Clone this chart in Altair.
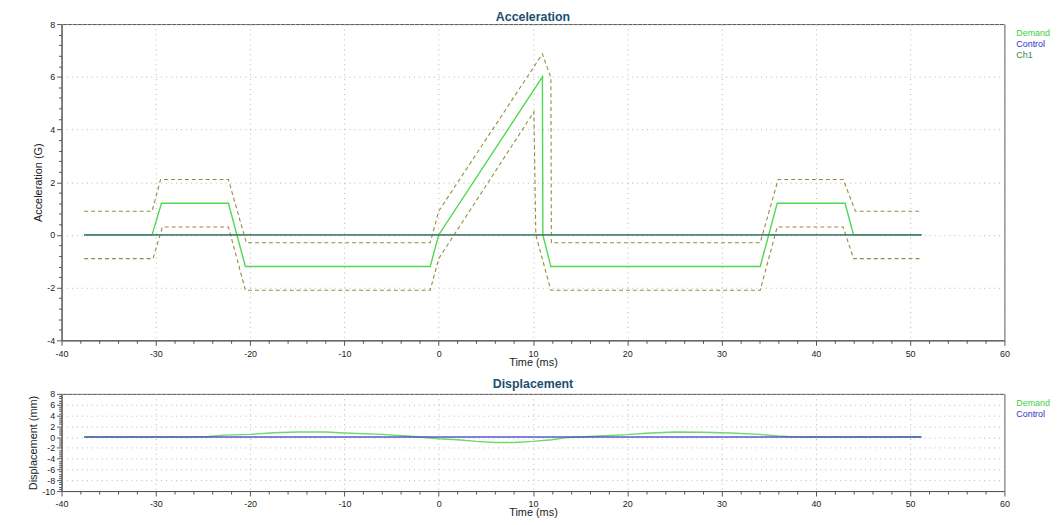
import altair as alt
import pandas as pd

# ---------------- Acceleration (G) ----------------
acc_demand_t = [-37.6, -30.4, -29.4, -22.3, -20.5, -0.9, 0.0, 11.0, 11.05, 11.9, 34.1, 35.9, 43.1, 44.0, 51.2]
acc_demand_v = [0.0, 0.0, 1.2, 1.2, -1.2, -1.2, 0.0, 6.0, 0.0, -1.2, -1.2, 1.2, 1.2, 0.0, 0.0]

acc_upper_t = [-37.6, -30.4, -29.5, -22.3, -20.4, -0.9, 0.0, 11.0, 11.9, 11.95, 34.1, 36.0, 42.9, 44.2, 51.2]
acc_upper_v = [0.9, 0.9, 2.1, 2.1, -0.3, -0.3, 0.9, 6.87, 5.97, -0.3, -0.3, 2.1, 2.1, 0.9, 0.9]

acc_lower_t = [-37.6, -30.3, -29.3, -22.3, -20.5, -0.9, 0.0, 10.1, 10.3, 11.9, 34.1, 35.9, 42.9, 44.0, 51.2]
acc_lower_v = [-0.9, -0.9, 0.3, 0.3, -2.1, -2.1, -0.9, 4.67, 0.0, -2.1, -2.1, 0.3, 0.3, -0.9, -0.9]

acc_control_t = [-37.6, 51.2]
acc_control_v = [0.0, 0.0]
acc_ch1_t = [-37.6, 51.2]
acc_ch1_v = [0.0, 0.0]

# ---------------- Displacement (mm) ----------------
disp_demand_t = [-37.6, -26.7, -24.4, -22.8, -20.0, -17.5, -15.0, -12.0, -10.0, -6.0, -3.0, -2.0,
                 0.0, 2.0, 4.0, 6.0, 8.0, 10.0, 12.0, 13.6, 15.0, 17.0, 20.0, 22.0, 25.0, 28.0,
                 31.0, 34.0, 36.0, 38.3, 51.2]
disp_demand_v = [0.0, 0.0, 0.1, 0.35, 0.5, 0.8, 0.95, 0.95, 0.75, 0.5, 0.15, 0.0,
                 -0.3, -0.5, -0.8, -1.0, -1.0, -0.8, -0.5, -0.1, 0.0, 0.2, 0.45, 0.7, 0.95, 0.9,
                 0.75, 0.5, 0.2, 0.0, 0.0]
disp_control_t = [-37.6, 51.2]
disp_control_v = [0.0, 0.0]

# ---------------- Axis tick values ----------------
x_ticks = list(range(-40, 61, 2))
acc_y_ticks = [round(-4 + 0.4 * k, 1) for k in range(31)]
disp_y_ticks = [round(-10 + 0.4 * k, 1) for k in range(46)]

series_names_acc = ["Demand", "Control", "Ch1"]
series_colors_acc = ["#50d850", "#3c3cc8", "#4a964e"]
series_names_disp = ["Demand", "Control"]
series_colors_disp = ["#5ad65a", "#4646c8"]


def long_frame(pairs):
    rows = []
    for name, ts, vs in pairs:
        for i, (t, v) in enumerate(zip(ts, vs)):
            rows.append({"t": t, "v": v, "series": name, "i": i})
    return pd.DataFrame(rows)


acc_df = long_frame([("Demand", acc_demand_t, acc_demand_v),
                     ("Control", acc_control_t, acc_control_v),
                     ("Ch1", acc_ch1_t, acc_ch1_v)])
env_df = long_frame([("upper", acc_upper_t, acc_upper_v),
                     ("lower", acc_lower_t, acc_lower_v)])
disp_df = long_frame([("Demand", disp_demand_t, disp_demand_v),
                      ("Control", disp_control_t, disp_control_v)])

FONT = "Liberation Sans"
x_major = "abs(datum.value / 10 - round(datum.value / 10)) < 0.001"
y_major = "abs(datum.value / 2 - round(datum.value / 2)) < 0.001"


def x_axis():
    return alt.Axis(
        values=x_ticks,
        labelExpr=f"{x_major} ? '' + datum.value : ''",
        tickSize={"condition": {"test": x_major, "value": 5}, "value": 3},
        gridOpacity={"condition": {"test": x_major, "value": 1}, "value": 0},
        title="Time (ms)",
        titlePadding=-2,
        labelPadding=4,
        labelFlush=False,
        labelOverlap=False,
    )


def y_axis(title, values):
    return alt.Axis(
        values=values,
        labelExpr=f"{y_major} ? '' + round(datum.value) : ''",
        tickSize={"condition": {"test": y_major, "value": 5}, "value": 3},
        gridOpacity={"condition": {"test": y_major, "value": 1}, "value": 0},
        title=title,
        titlePadding=3,
        labelPadding=2,
        labelFlush=False,
        labelOverlap=False,
    )


def legend():
    return alt.Legend(
        title=None,
        orient="none",
        legendX=954,
        legendY=5,
        padding=0,
        labelOffset=0,
        symbolSize=0,
        symbolStrokeWidth=0,
        symbolOpacity=0,
        labelFontSize=9,
        labelFont=FONT,
        rowPadding=1,
        labelColor={"expr": "datum.label == 'Demand' ? '#40d040' : datum.label == 'Control' ? '#3030c8' : '#3a8a3a'"},
    )


xs = alt.Scale(domain=[-40, 60], nice=False, zero=False)

x_top = alt.X("t:Q", scale=xs, axis=x_axis())
y_top = alt.Y("v:Q", scale=alt.Scale(domain=[-4, 8], nice=False, zero=False),
              axis=y_axis("Acceleration (G)", acc_y_ticks))

env = alt.Chart(env_df).mark_line(strokeDash=[4, 3], color="#9a8a3e", strokeWidth=1.1).encode(
    x=x_top,
    y=y_top,
    detail="series:N",
    order="i:Q",
)

acc_lines = alt.Chart(acc_df).mark_line(strokeWidth=1.4).encode(
    x=x_top,
    y=y_top,
    color=alt.Color("series:N", scale=alt.Scale(domain=series_names_acc, range=series_colors_acc),
                    legend=legend()),
    order="i:Q",
)

top = alt.layer(env, acc_lines).properties(
    width=951, height=319,
    title=alt.TitleParams("Acceleration", fontSize=12.5, font=FONT, fontWeight="bold",
                          color="#1b4f72", offset=-3),
)

disp_lines = alt.Chart(disp_df).mark_line(strokeWidth=1.4, opacity=0.9).encode(
    x=alt.X("t:Q", scale=xs, axis=x_axis()),
    y=alt.Y("v:Q", scale=alt.Scale(domain=[-10, 8], nice=False, zero=False),
            axis=y_axis("Displacement (mm)", disp_y_ticks)),
    color=alt.Color("series:N", scale=alt.Scale(domain=series_names_disp, range=series_colors_disp),
                    legend=legend()),
    order="i:Q",
)

bottom = disp_lines.properties(
    width=951, height=98,
    title=alt.TitleParams("Displacement", fontSize=12.5, font=FONT, fontWeight="bold",
                          color="#1b4f72", offset=-1),
)

chart = alt.vconcat(top, bottom, spacing=10).resolve_scale(
    color="independent", y="independent"
).resolve_legend(color="independent").properties(
    padding={"left": 19, "top": 0, "right": 0, "bottom": 0},
    background="white",
).configure_view(
    stroke="#555555", strokeWidth=1
).configure_axis(
    labelFont=FONT, titleFont=FONT, labelFontSize=9, titleFontSize=11,
    labelColor="#222222", titleColor="#222222", titleFontWeight="normal",
    domainColor="#555555", tickColor="#555555",
    gridColor="#b8b8b8", gridDash=[1, 4], gridWidth=1,
)

chart.save("out.html", embed_options={"renderer": "svg", "actions": False})
